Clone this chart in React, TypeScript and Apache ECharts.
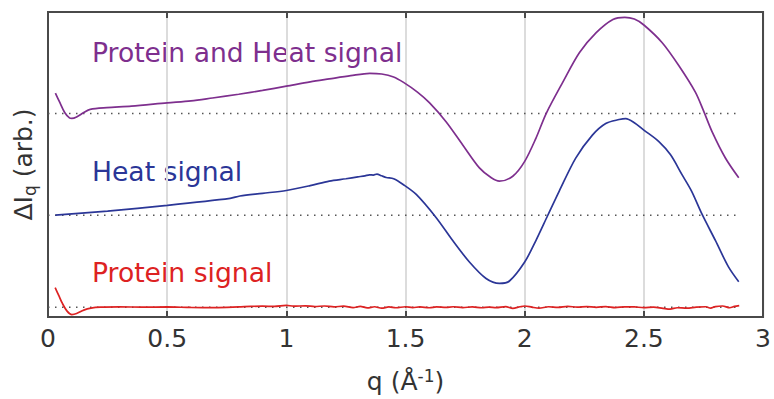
import React, { useEffect, useRef } from "react";
import * as echarts from "echarts";

// Baseline offsets (arb. units) for stacked curves
const offsetProtein = 0;
const offsetHeat = 0.935;
const offsetBoth = 1.968;

// Protein and Heat signal
const qBoth = [0.031, 0.05, 0.07, 0.09, 0.1, 0.12, 0.15, 0.177, 0.247, 0.35, 0.5, 0.6, 0.69, 0.8, 0.9, 1.0, 1.1, 1.18, 1.27, 1.35, 1.4, 1.45, 1.49, 1.55, 1.6, 1.67, 1.74, 1.81, 1.86, 1.894, 1.95, 2.0, 2.047, 2.09, 2.16, 2.23, 2.3, 2.37, 2.42, 2.46, 2.5, 2.577, 2.647, 2.716, 2.75, 2.786, 2.842, 2.898];
const signalBoth = [0.208, 0.11, 0.01, -0.045, -0.05, -0.035, 0.01, 0.043, 0.06, 0.075, 0.108, 0.128, 0.158, 0.196, 0.235, 0.278, 0.322, 0.352, 0.385, 0.409, 0.402, 0.372, 0.319, 0.218, 0.11, -0.083, -0.319, -0.552, -0.653, -0.687, -0.637, -0.486, -0.252, 0.0, 0.319, 0.62, 0.822, 0.956, 0.978, 0.96, 0.9, 0.72, 0.486, 0.218, 0.03, -0.184, -0.452, -0.653];

// Heat signal
const qHeat = [0.031, 0.25, 0.5, 0.764, 0.805, 0.9, 1.0, 1.1, 1.18, 1.25, 1.3, 1.33, 1.349, 1.365, 1.38, 1.4, 1.419, 1.45, 1.49, 1.545, 1.628, 1.698, 1.768, 1.838, 1.894, 1.936, 2.0, 2.047, 2.096, 2.145, 2.214, 2.284, 2.34, 2.396, 2.424, 2.46, 2.5, 2.563, 2.612, 2.66, 2.7, 2.744, 2.8, 2.855, 2.898];
const signalHeat = [0.0, 0.042, 0.1, 0.171, 0.195, 0.222, 0.251, 0.3, 0.346, 0.37, 0.389, 0.4, 0.41, 0.408, 0.418, 0.4, 0.383, 0.37, 0.312, 0.211, -0.023, -0.258, -0.476, -0.644, -0.694, -0.669, -0.476, -0.258, -0.006, 0.245, 0.58, 0.814, 0.932, 0.972, 0.982, 0.94, 0.865, 0.748, 0.613, 0.412, 0.245, 0.01, -0.257, -0.526, -0.677];

// Protein signal
const qProtein = [0.03, 0.045, 0.06, 0.08, 0.1, 0.12, 0.15, 0.18, 0.22, 0.3, 0.4, 0.5, 0.6, 0.7, 0.8, 0.85, 0.9, 0.95, 1.0, 1.03, 1.08, 1.12, 1.16, 1.2, 1.24, 1.28, 1.31, 1.34, 1.37, 1.4, 1.43, 1.46, 1.5, 1.53, 1.56, 1.6, 1.63, 1.67, 1.7, 1.74, 1.78, 1.82, 1.85, 1.88, 1.92, 1.95, 1.98, 2.0, 2.03, 2.06, 2.1, 2.14, 2.18, 2.22, 2.26, 2.3, 2.34, 2.38, 2.42, 2.46, 2.5, 2.54, 2.58, 2.61, 2.64, 2.68, 2.72, 2.76, 2.78, 2.8, 2.83, 2.86, 2.88, 2.9];
const signalProtein = [0.198, 0.12, 0.04, -0.04, -0.075, -0.065, -0.03, -0.01, 0.0, 0.003, 0.0, 0.002, -0.003, -0.004, 0.003, 0.008, 0.01, 0.008, 0.018, 0.01, 0.014, 0.006, 0.012, 0.003, 0.01, -0.004, 0.008, -0.008, 0.004, -0.01, 0.002, -0.006, 0.004, -0.004, 0.002, -0.006, 0.003, -0.002, 0.004, -0.004, 0.002, -0.006, 0.0, -0.004, 0.006, -0.012, 0.004, 0.012, 0.0, -0.01, 0.004, -0.002, 0.008, 0.0, 0.006, -0.002, 0.006, -0.004, 0.003, 0.002, -0.004, 0.0, -0.012, -0.02, -0.006, -0.01, 0.0, 0.004, -0.01, 0.006, 0.012, -0.006, 0.008, 0.016];

const baselineEnd = 2.89;
const xTicks = [0, 0.5, 1, 1.5, 2, 2.5, 3];

const colorBoth = "#7E2F8E";
const colorHeat = "#2B3697";
const colorProtein = "#DD2222";
const FONT = "DejaVu Sans";
const FRAME = "#4a4a4a";

export default function App() {
  const ref = useRef<HTMLDivElement>(null);
  useEffect(() => {
    if (!ref.current) return;
    const chart = echarts.init(ref.current, undefined, { renderer: "svg" });
    const mk = (q: number[], s: number[], off: number) => q.map((x, i) => [x, s[i] + off]);
    const baseline = (off: number) => ({
      type: "line",
      data: [[0, off], [baselineEnd, off]],
      symbol: "none",
      silent: true,
      lineStyle: { color: "#555", width: 1.5, type: [1.5, 5.5] },
    });
    const curve = (q: number[], s: number[], off: number, color: string) => ({
      type: "line",
      data: mk(q, s, off),
      symbol: "none",
      smooth: 0.3,
      lineStyle: { color, width: 1.7 },
    });
    const frameLine = () => ({ show: true, onZero: false, lineStyle: { color: FRAME, width: 2 } });
    const ticks = () => ({ show: true, inside: true, length: 6, lineStyle: { color: FRAME, width: 2 } });
    chart.setOption({
      animation: false,
      backgroundColor: "#fff",
      grid: { left: 48, right: 10, top: 12, bottom: 78, show: true, borderColor: FRAME, borderWidth: 2 },
      xAxis: [
        {
          type: "value",
          min: 0,
          max: 3,
          interval: 0.5,
          position: "bottom",
          axisLine: frameLine(),
          axisTick: ticks(),
          splitLine: { show: true, lineStyle: { color: "#dcdcdc", width: 2 } },
          axisLabel: {
            color: "#333",
            fontSize: 25,
            fontFamily: FONT,
            margin: 9,
            formatter: (v: number) => (xTicks.includes(v) ? String(v) : ""),
          },
          name: "q (Å{sup|-1})",
          nameLocation: "middle",
          nameGap: 50,
          nameTextStyle: {
            color: "#333",
            fontSize: 25,
            fontFamily: FONT,
            rich: { sup: { fontSize: 17, fontFamily: FONT, color: "#333", verticalAlign: "top", padding: [0, 0, 12, 0] } },
          },
        },
        {
          type: "value",
          min: 0,
          max: 3,
          interval: 0.5,
          position: "top",
          axisLine: frameLine(),
          axisTick: ticks(),
          splitLine: { show: false },
          axisLabel: { show: false },
        },
      ],
      yAxis: [
        {
          type: "value",
          min: -0.1,
          max: 3.0,
          position: "left",
          axisLine: frameLine(),
          axisTick: { show: false },
          splitLine: { show: false },
          axisLabel: { show: false },
          name: "ΔI{sub|q} (arb.)",
          nameLocation: "middle",
          nameGap: 10,
          nameTextStyle: {
            color: "#333",
            fontSize: 25,
            fontFamily: FONT,
            rich: { sub: { fontSize: 17, fontFamily: FONT, color: "#333", padding: [12, 0, 0, 0] } },
          },
        },
        {
          type: "value",
          min: -0.1,
          max: 3.0,
          position: "right",
          axisLine: frameLine(),
          axisTick: { show: false },
          splitLine: { show: false },
          axisLabel: { show: false },
        },
      ],
      series: [
        baseline(offsetBoth),
        baseline(offsetHeat),
        baseline(offsetProtein),
        curve(qBoth, signalBoth, offsetBoth, colorBoth),
        curve(qHeat, signalHeat, offsetHeat, colorHeat),
        curve(qProtein, signalProtein, offsetProtein, colorProtein),
      ],
      graphic: [
        { type: "text", left: 92, top: 39, style: { text: "Protein and Heat signal", fontSize: 26.6, fontFamily: FONT, fill: colorBoth } },
        { type: "text", left: 92, top: 158, style: { text: "Heat signal", fontSize: 26.6, fontFamily: FONT, fill: colorHeat } },
        { type: "text", left: 92, top: 259, style: { text: "Protein signal", fontSize: 26.6, fontFamily: FONT, fill: colorProtein } },
      ],
    });
    return () => chart.dispose();
  }, []);
  return (
    <div
      ref={ref}
      style={{ position: "absolute", left: 0, top: 0, width: 774, height: 399 }}
    />
  );
}
